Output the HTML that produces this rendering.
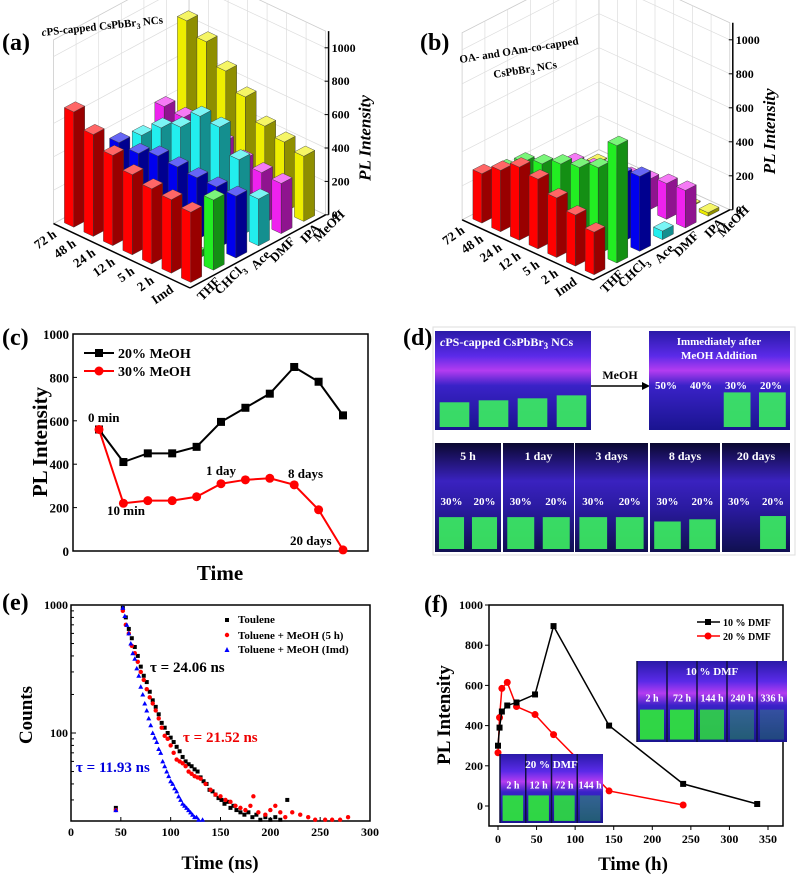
<!DOCTYPE html>
<html><head><meta charset="utf-8"><style>
html,body{margin:0;padding:0;background:#fff}
svg{display:block;font-family:"Liberation Serif",serif;font-weight:bold}
</style></head><body>
<svg id="fig" width="800" height="879" viewBox="0 0 800 879" xmlns="http://www.w3.org/2000/svg">
<defs>
<linearGradient id="vial" x1="0" y1="0" x2="0" y2="1">
<stop offset="0" stop-color="#2a1aa8"/><stop offset="0.25" stop-color="#5a2ae8"/><stop offset="0.4" stop-color="#b43cf0"/><stop offset="0.55" stop-color="#3a22c8"/><stop offset="1" stop-color="#1a1490"/></linearGradient>
<linearGradient id="dark" x1="0" y1="0" x2="0" y2="1">
<stop offset="0" stop-color="#0a0830"/><stop offset="0.35" stop-color="#3a22c0"/><stop offset="0.6" stop-color="#2a1aa0"/><stop offset="1" stop-color="#101050"/></linearGradient>
</defs>
<g id="pa"></g>
<g id="pb"></g>
<g id="pc"></g>
<g id="pd"></g>
<g id="pe"></g>
<g id="pf"></g>
</svg>
<script>
// ---------- data ----------
const timeLabels = ["Imd","2 h","5 h","12 h","24 h","48 h","72 h"];
const solventLabels = ["THF","CHCl3","Ace","DMF","IPA","MeOH"];
const barColors = ["#ff0000","#22ee22","#0000ee","#22eeee","#ee22ee","#eeee00"];
// panel a (rows Imd..72h)
const aRed = [420,440,450,480,540,610,690];
const aGreen = [420,40,40,40,40,40,40];
const aBlue = [370,370,370,380,390,350,360];
const aCyan = [280,460,600,610,490,430,330];
const aMagenta = [300,310,330,380,400,420,430];
const aYellow = [390,420,460,580,680,800,870];
// panel b
const bRed = [250,300,350,410,430,360,290];
const bGreen = [690,510,460,430,380,340,250];
const bBlue = [440,400,380,300,180,200,200];
const bCyan = [50,0,0,0,0,0,0];
const bMagenta = [220,210,180,150,130,100,80];
const bYellow = [20,6,6,6,6,6,6];
const zTicks = [0,200,400,600,800,1000];
// panel c
const cBlack = [560,410,450,450,480,595,660,725,848,780,625];
const cRed = [560,220,232,232,250,310,328,335,305,190,5];
const cTicks = [0,200,400,600,800,1000];
// panel e
const eBlackT = [45,52,55,58,61,64,67,70,73,76,79,82,85,88,91,94,97,100,103,106,109,112,115,118,121,124,127,130,133,136,139,142,145,148,151,154,157,160,163,166,170,174,178,182,186,190,195,200,205,210,217];
const eBlackC = [26,950,800,650,550,470,400,330,280,250,210,180,160,140,120,110,100,92,85,78,72,65,60,57,55,52,50,45,42,40,36,35,33,31,30,28,29,26,27,25,24,23,24,22,23,21,22,21,22,21,30];
const eRedT = [45,52,55,58,61,64,67,70,73,76,79,82,85,88,91,94,97,100,103,106,109,112,115,118,121,124,127,130,135,140,145,150,155,160,165,170,175,180,183,188,195,200,205,210,215,222,230,238,245,255,262,270,278];
const eRedC = [25,900,700,600,480,420,360,300,260,220,190,170,150,130,110,95,90,80,70,62,60,58,55,50,48,46,45,44,40,36,33,32,30,29,27,26,25,27,32,24,23,25,27,24,22,24,23,22,21,21,21,21,22];
const eBlueT = [45,52,54,56,58,60,62,64,66,68,70,72,74,76,78,80,82,84,86,88,90,92,94,96,98,100,102,104,106,108,110,112,114,116,118,120,122,124,126,128,132];
const eBlueC = [25,950,820,700,600,500,420,380,320,280,230,200,170,150,130,115,100,92,85,75,70,60,55,50,46,42,40,37,35,32,30,28,27,26,25,24,23,22,22,21,21];
const eXTicks = [0,50,100,150,200,250,300];
// panel f
const fBlackT = [0,2,5,12,24,48,72,144,240,336];
const fBlackV = [300,390,470,500,515,555,895,400,110,10];
const fRedT = [0,2,5,12,24,48,72,144,240];
const fRedV = [265,440,585,615,495,455,355,75,5];
const fXTicks = [0,50,100,150,200,250,300,350];
const fYTicks = [0,200,400,600,800,1000];

const NS="http://www.w3.org/2000/svg";
function el(tag,attrs,parent,txt){const e=document.createElementNS(NS,tag);for(const k in attrs)e.setAttribute(k,attrs[k]);if(txt!==undefined)e.textContent=txt;parent.appendChild(e);return e;}
function shade(hex,f){const n=parseInt(hex.slice(1),16);let r=(n>>16)&255,g=(n>>8)&255,b=n&255;
 const m=v=>Math.max(0,Math.min(255,Math.round(f>1?v+(255-v)*(f-1):v*f)));return `rgb(${m(r)},${m(g)},${m(b)})`;}

// ---------- 3D bar panels ----------
function draw3D(g,cfg,series){
 const P=(r,c,z)=>[cfg.O[0]+c*cfg.cv[0]+r*cfg.rv[0], cfg.O[1]+c*cfg.cv[1]+r*cfg.rv[1]-z*cfg.k];
 const pts=a=>a.map(p=>p[0].toFixed(1)+","+p[1].toFixed(1)).join(" ");
 const NR=7,NC=6,ZM=1100;
 el("polygon",{points:pts([P(NR,0,0),P(NR,NC,0),P(NR,NC,ZM),P(NR,0,ZM)]),fill:"none",stroke:"#ccc","stroke-width":0.8},g);
 el("polygon",{points:pts([P(0,NC,0),P(NR,NC,0),P(NR,NC,ZM),P(0,NC,ZM)]),fill:"none",stroke:"#ccc","stroke-width":0.8},g);
 for(let z=200;z<=1000;z+=200){
  el("polyline",{points:pts([P(NR,0,z),P(NR,NC,z),P(0,NC,z)]),fill:"none",stroke:"#ddd","stroke-width":0.7},g);
 }
 for(let c=1;c<NC;c++) el("line",{x1:P(NR,c,0)[0],y1:P(NR,c,0)[1],x2:P(NR,c,ZM)[0],y2:P(NR,c,ZM)[1],stroke:"#ddd","stroke-width":0.7},g);
 for(let r=1;r<NR;r++) el("line",{x1:P(r,NC,0)[0],y1:P(r,NC,0)[1],x2:P(r,NC,ZM)[0],y2:P(r,NC,ZM)[1],stroke:"#ddd","stroke-width":0.7},g);
 el("polygon",{points:pts([P(0,0,0),P(0,NC,0),P(NR,NC,0),P(NR,0,0)]),fill:"none",stroke:"#ccc","stroke-width":0.8},g);
 const cells=[];
 for(let r=0;r<NR;r++)for(let c=0;c<NC;c++)cells.push([r,c]);
 cells.sort((a,b)=>(b[0]+b[1])-(a[0]+a[1]));
 const a=0.24;
 cells.forEach(([r,c])=>{
  const v=series[c][r]; if(!v) return;
  const rc=r+0.5,cc=c+0.5,col=barColors[c];
  const F=[rc-a,cc-a],R=[rc-a,cc+a],L=[rc+a,cc-a],B=[rc+a,cc+a];
  const bar=el("g",{},g);
  
  
  el("polygon",{points:pts([P(F[0],F[1],0),P(L[0],L[1],0),P(L[0],L[1],v),P(F[0],F[1],v)]),fill:col,stroke:"#333","stroke-width":0.4},bar);
  el("polygon",{points:pts([P(F[0],F[1],0),P(R[0],R[1],0),P(R[0],R[1],v),P(F[0],F[1],v)]),fill:shade(col,0.6),stroke:"#333","stroke-width":0.4},bar);
  el("polygon",{points:pts([P(F[0],F[1],v),P(R[0],R[1],v),P(B[0],B[1],v),P(L[0],L[1],v)]),fill:shade(col,1.4),stroke:"#333","stroke-width":0.4},bar);
 });
 const ax=el("g",{},g);
 
 
 el("line",{x1:P(0,0,0)[0],y1:P(0,0,0)[1],x2:P(NR,0,0)[0],y2:P(NR,0,0)[1],stroke:"#000","stroke-width":1.5},ax);
 el("line",{x1:P(0,0,0)[0],y1:P(0,0,0)[1],x2:P(0,NC,0)[0],y2:P(0,NC,0)[1],stroke:"#000","stroke-width":1.5},ax);
 const zb=P(0,NC,0),zt=P(0,NC,ZM);
 el("line",{x1:zb[0]+3,y1:zb[1],x2:zt[0]+3,y2:zt[1],stroke:"#000","stroke-width":1.5},ax);
 zTicks.forEach(t=>{const p=P(0,NC,t);
  el("line",{x1:p[0]+3,y1:p[1],x2:p[0]-1,y2:p[1],stroke:"#000","stroke-width":1},ax);
  const tl=el("text",{x:p[0]+6,y:p[1]+4,"font-size":12},ax,String(t));
  
  
 });
 timeLabels.forEach((t,r)=>{const p=P(r+0.5,0,0);
  const tl=el("text",{x:p[0]-6,y:p[1]+8,"font-size":13,"text-anchor":"end",transform:`rotate(-35 ${p[0]-6} ${p[1]+8})`},ax,t);
  
  
 });
 solventLabels.forEach((s,c)=>{const p=P(0,1.2+1.1*c,0);const x=p[0]+4,y=p[1]+9;
  const tl=el("text",{x:x,y:y,"font-size":13,"text-anchor":"end",transform:`rotate(-45 ${x} ${y})`},ax);
  if(s==="CHCl3"){tl.textContent="CHCl";el("tspan",{"font-size":9,dy:4},tl,"3");}else tl.textContent=s;
  
  
 });
 const ttl=el("text",{x:zb[0]+45,y:(zb[1]+zt[1])/2+15,"font-size":17,"font-style":"italic","text-anchor":"middle",transform:`rotate(-90 ${zb[0]+45} ${(zb[1]+zt[1])/2+15})`},ax,"PL Intensity");
 
 
}
const pa=document.getElementById("pa"), pb=document.getElementById("pb");
draw3D(pa,{O:[190,288],cv:[22.6,-12.2],rv:[-19.5,-9.2],k:0.167},[aRed,aGreen,aBlue,aCyan,aMagenta,aYellow]);
draw3D(pb,{O:[593,280],cv:[22.8,-11.7],rv:[-18.7,-8.6],k:0.17},[bRed,bGreen,bBlue,bCyan,bMagenta,bYellow]);
(function(){
 let t=el("text",{x:2,y:50,"font-size":24},pa,"(a)");
 t=el("text",{x:42,y:36,"font-size":11,transform:"rotate(-6 42 36)"},pa);
 el("tspan",{"font-style":"italic"},t,"c");t.appendChild(document.createTextNode("PS-capped CsPbBr"));el("tspan",{"font-size":8,dy:3},t,"3");el("tspan",{dy:-3},t," NCs");
 t=el("text",{x:420,y:50,"font-size":24},pb,"(b)");
 t=el("text",{x:460,y:63,"font-size":11,transform:"rotate(-9 460 63)"},pb,"OA- and OAm-co-capped");
 t=el("text",{x:494,y:78,"font-size":11,transform:"rotate(-9 494 78)"},pb);
 t.appendChild(document.createTextNode("CsPbBr"));el("tspan",{"font-size":8,dy:3},t,"3");el("tspan",{dy:-3},t," NCs");
})();

// ---------- panel c ----------
(function(){
 const g=document.getElementById("pc");
 const X0=73,X1=368,Y0=551,Y1=334;
 const xs=i=>99+i*24.4, ys=v=>Y0-(v/1000)*(Y0-Y1);
 let t=el("text",{x:2,y:345,"font-size":24},g,"(c)");
 const box=el("rect",{x:X0,y:Y1,width:X1-X0,height:Y0-Y1,fill:"none",stroke:"#000","stroke-width":1.5},g);
 
 cTicks.forEach(v=>{el("line",{x1:X0,y1:ys(v),x2:X0+4,y2:ys(v),stroke:"#000"},g);
  const l=el("text",{x:X0-4,y:ys(v)+5,"font-size":13,"text-anchor":"end"},g,String(v));});
 [[cBlack,"#000","sq"],[cRed,"#f00","ci"]].forEach(([d,col,m])=>{
  const pl=el("polyline",{points:d.map((v,i)=>xs(i)+","+ys(v)).join(" "),fill:"none",stroke:col,"stroke-width":2},g);
  
  d.forEach((v,i)=>{let p;if(m==="sq")p=el("rect",{x:xs(i)-4,y:ys(v)-4,width:8,height:8,fill:col},g);else p=el("circle",{cx:xs(i),cy:ys(v),r:4.5,fill:col},g);
   });
 });
 el("line",{x1:84,y1:353,x2:114,y2:353,stroke:"#000","stroke-width":2},g);el("rect",{x:95,y:349,width:8,height:8,fill:"#000"},g);
 t=el("text",{x:118,y:358,"font-size":14},g,"20% MeOH");
 el("line",{x1:84,y1:371,x2:114,y2:371,stroke:"#f00","stroke-width":2},g);el("circle",{cx:99,cy:371,r:4.5,fill:"#f00"},g);
 t=el("text",{x:118,y:376,"font-size":14},g,"30% MeOH");
 [["0 min",88,422],["10 min",107,515],["1 day",206,475],["8 days",288,478],["20 days",290,545]].forEach(([s,x,y])=>{const a=el("text",{x:x,y:y,"font-size":13},g,s);});
 t=el("text",{x:47,y:442,"font-size":21,"text-anchor":"middle",transform:"rotate(-90 47 442)"},g,"PL Intensity");
 t=el("text",{x:220,y:580,"font-size":21,"text-anchor":"middle"},g,"Time");
})();

// ---------- panel d ----------
(function(){
 const g=document.getElementById("pd");
 el("rect",{x:433,y:327,width:362,height:228,fill:"none",stroke:"#ddd"},g);
 let t=el("text",{x:403,y:345,"font-size":24},g,"(d)");
 function photo(x,y,w,h,n,levels,name,bg){
  const pg=el("g",{},g);
  el("rect",{x:x,y:y,width:w,height:h,fill:"url(#"+(bg||"vial")+")"},pg);
  const vw=w/n;
  levels.forEach((lv,i)=>{ if(lv<=0) return;
   el("rect",{x:x+i*vw+vw*0.12,y:y+h*(1-lv),width:vw*0.76,height:h*lv-3,fill:"#3cf060",opacity:0.9},pg);});
  return pg;
 }
 photo(435,331,156,99,4,[0.28,0.3,0.32,0.35],"photo-cps-ncs");
 t=el("text",{x:440,y:346,"font-size":12,fill:"#fff"},g);
 el("tspan",{"font-style":"italic"},t,"c");t.appendChild(document.createTextNode("PS-capped CsPbBr"));el("tspan",{"font-size":9,dy:3},t,"3");el("tspan",{dy:-3},t," NCs");
 const ar=el("g",{},g);
 el("line",{x1:591,y1:386,x2:645,y2:386,stroke:"#000","stroke-width":1.5},ar);el("polygon",{points:"650,386 642,382 642,390",fill:"#000"},ar);
 el("text",{x:620,y:379,"font-size":12,"text-anchor":"middle"},ar,"MeOH");
 photo(649,331,141,99,4,[0,0,0.38,0.38],"photo-immediate");
 [["Immediately after",719,345],["MeOH Addition",719,359]].forEach(([s,x,y])=>{const a=el("text",{x:x,y:y,"font-size":11,fill:"#fff","text-anchor":"middle"},g,s);});
 ["50%","40%","30%","20%"].forEach((s,i)=>{const a=el("text",{x:666+i*35,y:389,"font-size":11,fill:"#fff","text-anchor":"middle"},g,s);});
 const panels=[["5 h",435,66,[0.32,0.32]],["1 day",503,71,[0.32,0.32]],["3 days",575,73,[0.32,0.32]],["8 days",650,70,[0.28,0.3]],["20 days",722,68,[0,0.33]]];
 panels.forEach(([lab,x,w,lv])=>{
  photo(x,443,w,109,2,lv,"photo-"+lab.replace(' ','-'),"dark");
  const a=el("text",{x:x+w/2,y:460,"font-size":12,fill:"#fff","text-anchor":"middle"},g,lab);
  ["30%","20%"].forEach((s,i)=>{const b=el("text",{x:x+w*(0.25+0.5*i),y:505,"font-size":11,fill:"#fff","text-anchor":"middle"},g,s);});
 });
})();

// ---------- panel e ----------
(function(){
 const g=document.getElementById("pe");
 const X0=71,X1=370,Y0=821,Y1=605;
 const xs=v=>X0+v/300*(X1-X0), ys=c=>733-(Math.log10(c)-2)*128;
 let t=el("text",{x:2,y:610,"font-size":24},g,"(e)");
 const box=el("rect",{x:X0,y:Y1,width:X1-X0,height:Y0-Y1,fill:"none",stroke:"#000","stroke-width":1.5},g);
 
 eXTicks.forEach(v=>{el("line",{x1:xs(v),y1:Y0,x2:xs(v),y2:Y0-4,stroke:"#000"},g);
  const l=el("text",{x:xs(v),y:Y0+15,"font-size":12,"text-anchor":"middle"},g,String(v));});
 [1000,100].forEach(v=>{el("line",{x1:X0,y1:ys(v),x2:X0+5,y2:ys(v),stroke:"#000"},g);
  const l=el("text",{x:X0-3,y:ys(v)+4,"font-size":12,"text-anchor":"end"},g,String(v));});
 [30,40,50,60,70,80,90,200,300,400,500,600,700,800,900].forEach(v=>el("line",{x1:X0,y1:ys(v),x2:X0+3,y2:ys(v),stroke:"#000"},g));
 eBlackT.forEach((tt,i)=>{const p=el("rect",{x:xs(tt)-2,y:ys(eBlackC[i])-2,width:4,height:4,fill:"#000"},g);});
 eRedT.forEach((tt,i)=>{const p=el("circle",{cx:xs(tt),cy:ys(eRedC[i]),r:2.2,fill:"#f00"},g);});
 eBlueT.forEach((tt,i)=>{const x=xs(tt),y=ys(eBlueC[i]);const p=el("polygon",{points:`${x},${y-2.5} ${x-2.5},${y+2} ${x+2.5},${y+2}`,fill:"#00f"},g);});
 el("rect",{x:225,y:618,width:4,height:4,fill:"#000"},g);
 t=el("text",{x:238,y:623,"font-size":11},g,"Toulene");
 el("circle",{cx:227,cy:635,r:2.2,fill:"#f00"},g);
 t=el("text",{x:238,y:639,"font-size":11},g,"Toluene + MeOH (5 h)");
 el("polygon",{points:"227,647 224.5,652 229.5,652",fill:"#00f"},g);
 t=el("text",{x:238,y:653,"font-size":11},g,"Toluene + MeOH (Imd)");
 [["τ = 24.06 ns",150,672,"#000"],["τ = 21.52 ns",183,742,"#e00"],["τ = 11.93 ns",76,772,"#00d"]].forEach(([s,x,y,c])=>{const a=el("text",{x:x,y:y,"font-size":15,fill:c},g,s);});
 t=el("text",{x:32,y:715,"font-size":19,"text-anchor":"middle",transform:"rotate(-90 32 715)"},g,"Counts");
 t=el("text",{x:220,y:869,"font-size":19,"text-anchor":"middle"},g,"Time (ns)");
})();

// ---------- panel f ----------
(function(){
 const g=document.getElementById("pf");
 const X0=489,X1=783,Y0=826,Y1=605;
 const xs=v=>498+v*(270/350), ys=v=>806-v*0.201;
 let t=el("text",{x:424,y:612,"font-size":24},g,"(f)");
 const box=el("rect",{x:X0,y:Y1,width:X1-X0,height:Y0-Y1,fill:"none",stroke:"#000","stroke-width":1.5},g);
 
 fXTicks.forEach(v=>{el("line",{x1:xs(v),y1:Y0,x2:xs(v),y2:Y0+4,stroke:"#000"},g);
  const l=el("text",{x:xs(v),y:Y0+17,"font-size":12,"text-anchor":"middle"},g,String(v));});
 fYTicks.forEach(v=>{el("line",{x1:X0,y1:ys(v),x2:X0-4,y2:ys(v),stroke:"#000"},g);
  const l=el("text",{x:X0-6,y:ys(v)+4,"font-size":12,"text-anchor":"end"},g,String(v));});
 let pl=el("polyline",{points:fRedT.map((tt,i)=>xs(tt)+","+ys(fRedV[i])).join(" "),fill:"none",stroke:"#f00","stroke-width":1.5},g);
 
 fRedT.forEach((tt,i)=>{const p=el("circle",{cx:xs(tt),cy:ys(fRedV[i]),r:3.5,fill:"#f00"},g);});
 pl=el("polyline",{points:fBlackT.map((tt,i)=>xs(tt)+","+ys(fBlackV[i])).join(" "),fill:"none",stroke:"#000","stroke-width":1.5},g);
 
 fBlackT.forEach((tt,i)=>{const p=el("rect",{x:xs(tt)-3,y:ys(fBlackV[i])-3,width:6,height:6,fill:"#000"},g);});
 function inset(x,y,w,h,labels,lv,title,name){
  const ig=el("g",{},g);
  el("rect",{x:x,y:y,width:w,height:h,fill:"url(#vial)"},ig);
  const vw=w/labels.length;
  labels.forEach((s,i)=>{
   el("line",{x1:x+i*vw,y1:y,x2:x+i*vw,y2:y+h,stroke:"#101040","stroke-width":1.5},ig);
   if(lv[i]>0) el("rect",{x:x+i*vw+vw*0.1,y:y+h*0.6,width:vw*0.8,height:h*0.37,fill:"#30e040",opacity:lv[i]},ig);
   el("text",{x:x+vw*(i+0.5),y:y+h*0.5,"font-size":10,fill:"#fff","text-anchor":"middle"},ig,s);
  });
  el("text",{x:x+w/2,y:y+14,"font-size":11,fill:"#fff","text-anchor":"middle"},ig,title);
 }
 inset(637,661,150,81,["2 h","72 h","144 h","240 h","336 h"],[0.95,0.95,0.85,0.35,0.25],"10 % DMF","inset-10-dmf");
 inset(500,754,103,69,["2 h","12 h","72 h","144 h"],[0.95,0.95,0.9,0.35],"20 % DMF","inset-20-dmf");
 el("line",{x1:697,y1:622,x2:720,y2:622,stroke:"#000","stroke-width":1.5},g);el("rect",{x:705,y:619,width:6,height:6,fill:"#000"},g);
 t=el("text",{x:723,y:626,"font-size":10},g,"10 % DMF");
 el("line",{x1:697,y1:636,x2:720,y2:636,stroke:"#f00","stroke-width":1.5},g);el("circle",{cx:708,cy:636,r:3.5,fill:"#f00"},g);
 t=el("text",{x:723,y:640,"font-size":10},g,"20 % DMF");
 t=el("text",{x:450,y:715,"font-size":19,"text-anchor":"middle",transform:"rotate(-90 450 715)"},g,"PL Intensity");
 t=el("text",{x:633,y:870,"font-size":19,"text-anchor":"middle"},g,"Time (h)");
})();
</script>
</body></html>
